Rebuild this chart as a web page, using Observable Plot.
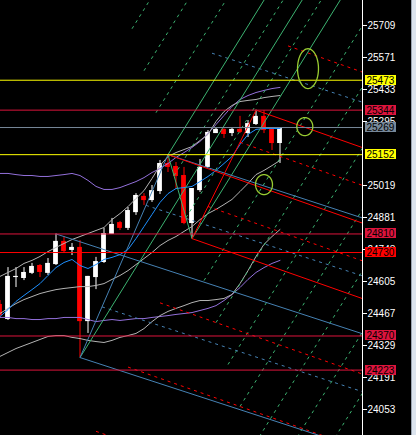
<!DOCTYPE html>
<html><head><meta charset="utf-8">
<script src="https://cdn.jsdelivr.net/npm/d3@7"></script>
<script src="https://cdn.jsdelivr.net/npm/@observablehq/plot@0.6"></script>
<style>
html,body{margin:0;padding:0;background:#000;}
#wrap{display:flex;width:416px;height:435px;overflow:hidden;background:#000;}
#strip{width:4px;height:435px;background:#dce4ee;border-left:1px solid #9aa4b0;}
</style></head><body>
<div id="wrap"><div id="chart"></div><div id="strip"></div></div>
<script>
// ---- candles (bar -1 .. 34) ----
const opens  = [24506,24441,24622,24618,24640,24674,24640,24678,24778,24739,24752,24432,24622,24687,24808,24859,24834,24902,24972,24954,24993,25114,25101,25062,24855,24997,25097,25243,25261,25243,25261,25243,25282,25317,25261,25200];
const highs  = [24523,24665,24665,24665,24683,24678,24704,24810,24799,24769,24782,24627,24709,24834,24877,24864,24924,24984,24984,25019,25127,25152,25118,25097,25006,25131,25256,25269,25263,25265,25317,25299,25344,25342,25265,25269];
const lows   = [24445,24437,24579,24609,24635,24622,24631,24674,24726,24717,24277,24381,24570,24683,24808,24825,24825,24890,24933,24946,24980,25075,25002,24850,24790,24989,25097,25243,25222,25230,25243,25226,25278,25243,25170,25114];
const closes = [24458,24627,24627,24644,24670,24644,24683,24778,24734,24752,24432,24627,24691,24812,24851,24834,24911,24976,24954,24997,25114,25097,25058,24855,25006,25097,25248,25261,25239,25261,25248,25286,25317,25256,25200,25269];

// ---- indicator lines ----
const maFast        = [24454,24484,24519,24545,24570,24596,24631,24665,24687,24700,24674,24661,24678,24700,24709,24721,24743,24790,24842,24894,24946,24984,25006,25010,25015,25036,25058,25084,25114,25144,25196,25239,25261,25265,25265,25265];
const greyUpper     = [24627,24644,24661,24683,24696,24713,24734,24752,24769,24786,24799,24812,24825,24838,24872,24898,24928,24963,24997,25049,25105,25144,25161,25174,25187,25213,25239,25295,25338,25364,25381,25386,25390,25398,25403,25407];
const greyMiddle    = [24467,24489,24510,24527,24540,24553,24562,24570,24575,24579,24583,24583,24588,24596,24614,24631,24652,24678,24704,24730,24760,24782,24799,24821,24842,24872,24898,24916,24937,24959,24993,25028,25066,25084,25105,25127];
const greyLower     = [24282,24299,24316,24329,24342,24355,24368,24372,24372,24364,24359,24351,24346,24342,24351,24364,24372,24381,24402,24432,24458,24476,24489,24501,24514,24523,24523,24527,24532,24549,24596,24652,24713,24765,24799,24829];
const purpleUpper   = [25071,25071,25066,25062,25062,25058,25058,25062,25066,25071,25062,25041,25015,25002,25002,25010,25023,25036,25053,25075,25092,25114,25140,25161,25183,25209,25243,25282,25321,25360,25390,25407,25420,25429,25437,25442];
const purpleLower   = [24450,24450,24445,24445,24441,24441,24445,24445,24450,24450,24450,24441,24432,24437,24441,24437,24441,24445,24445,24450,24454,24458,24463,24467,24471,24480,24489,24501,24523,24549,24579,24614,24644,24665,24683,24696];

// ---- pitchforks: [A, B, C] as [bar, price] ----
const bluePitchfork  = [[6, 24810], [9, 24277], [20, 25152]];
const redPitchfork   = [[20, 25152], [23, 24790], [31, 25344]];
const greenPitchfork = [[9, 24277], [20, 25152], [23, 24790]];
const forkLevels = [-8,-7,-6,-5,-4,-3,-2,-0.5,0.5,2,3,4,5,6,7,8];

// ---- horizontal levels ----
const levelPrices = [25473, 25344, 25269, 25152, 24810, 24730, 24370, 24223];
const levelColors = ["#ffff00","#dc143c","#778899","#ffff00","#dc143c","#ff0000","#dc143c","#dc143c"];

// ---- ellipses: center bar, center price, radius bars, radius price ----
const ellipseBar   = [37.5, 37.1, 32.0];
const ellipsePrice = [25523, 25273, 25023];
const ellipseRx    = [1.31, 1.0, 1.06];
const ellipseRy    = [86, 39, 43];

// ---- axis ticks (25157 sits fully under the 25152 label in the reference) ----
const tickValues = [25709,25571,25433,25295,25019,24881,24743,24605,24467,24329,24191,24053];

const candles = opens.map((o, i) => ({
  i: i - 1, o, h: highs[i], l: lows[i], c: closes[i],
  fast: maFast[i], gu: greyUpper[i], gm: greyMiddle[i], gl: greyLower[i],
  pu: purpleUpper[i], pl: purpleLower[i]
}));
const bull = candles.filter(d => d.c >= d.o);
const bear = candles.filter(d => d.c < d.o);
const bodyLo = d => Math.min(d.o, d.c);
const bodyHi = d => Math.max(Math.max(d.o, d.c), Math.min(d.o, d.c) + 4.3);

function forkSegments(pts, color) {
  const [A, B, C] = pts;
  const mid = [(B[0] + C[0]) / 2, (B[1] + C[1]) / 2];
  const d = [mid[0] - A[0], mid[1] - A[1]];
  const half = [C[0] - mid[0], C[1] - mid[1]];
  const s = 80 / d[0];
  const seg = (P, dashed) => ({x1: P[0], y1: P[1], x2: P[0] + s * d[0], y2: P[1] + s * d[1], dashed, color});
  const out = [seg(A, false), seg(B, false), seg(C, false),
               {x1: B[0], y1: B[1], x2: C[0], y2: C[1], dashed: false, color}];
  for (const t of forkLevels) out.push(seg([mid[0] + t * half[0], mid[1] + t * half[1]], true));
  return out;
}
const forks = [
  ...forkSegments(greenPitchfork, "#3cb371"),
  ...forkSegments(bluePitchfork, "#4682b4"),
  ...forkSegments(redPitchfork, "#ff0000")
];

const rings = ellipseBar.flatMap((cx, j) => d3.range(0, 361, 6).map(a => ({
  j, x: cx + ellipseRx[j] * Math.cos(a * Math.PI / 180),
  y: ellipsePrice[j] + ellipseRy[j] * Math.sin(a * Math.PI / 180)
})));

const levels = levelPrices.map((p, i) => ({p, color: levelColors[i]}));

const W = 411, MR = 49;
const xDomain = [-0.9375, 44.3125];
const yDomain = [23940.9, 25816.8];

const chart = Plot.plot({
  width: W, height: 435,
  marginLeft: 0, marginRight: MR, marginTop: 0, marginBottom: 0,
  style: {background: "black", color: "white", fontFamily: "'Liberation Sans', Arial, sans-serif", fontSize: "10px"},
  x: {domain: xDomain, axis: null},
  y: {domain: yDomain, axis: "right", ticks: tickValues, tickFormat: d3.format("d"), tickSize: 4, tickPadding: 1, label: null},
  marks: [
    Plot.ruleX(bull, {x: "i", y1: "l", y2: "h", stroke: "white", strokeWidth: 1}),
    Plot.ruleX(bear, {x: "i", y1: "l", y2: "h", stroke: "red", strokeWidth: 1}),
    Plot.rect(bull, {x1: d => d.i - 0.3, x2: d => d.i + 0.3, y1: bodyLo, y2: bodyHi, fill: "white"}),
    Plot.rect(bear, {x1: d => d.i - 0.3, x2: d => d.i + 0.3, y1: bodyLo, y2: bodyHi, fill: "red"}),
    Plot.line(candles, {x: "i", y: "pu", stroke: "#9370db", strokeWidth: 1, clip: true}),
    Plot.line(candles, {x: "i", y: "pl", stroke: "#9370db", strokeWidth: 1, clip: true}),
    Plot.line(candles, {x: "i", y: "gu", stroke: "#b4b4b4", strokeWidth: 1, clip: true}),
    Plot.line(candles, {x: "i", y: "gm", stroke: "#b4b4b4", strokeWidth: 1, clip: true}),
    Plot.line(candles, {x: "i", y: "gl", stroke: "#b4b4b4", strokeWidth: 1, clip: true}),
    Plot.line(candles, {x: "i", y: "fast", stroke: "#1e90ff", strokeWidth: 1, clip: true}),
    Plot.link(forks.filter(f => f.dashed), {x1: "x1", y1: "y1", x2: "x2", y2: "y2", stroke: "color", strokeWidth: 1, strokeDasharray: "3,4", clip: true}),
    Plot.link(forks.filter(f => !f.dashed), {x1: "x1", y1: "y1", x2: "x2", y2: "y2", stroke: "color", strokeWidth: 1, clip: true}),
    Plot.ruleY(levels, {y: "p", stroke: "color", strokeWidth: 1}),
    Plot.line(rings, {x: "x", y: "y", z: "j", stroke: "#9acd32", strokeWidth: 1.3, clip: true}),
    Plot.ruleX([xDomain[1]], {stroke: "white", strokeWidth: 1})
  ]
});
document.getElementById("chart").appendChild(chart);

// price labels on the axis, placed with the plot's own y scale
const ys = chart.scale("y");
const svg = d3.select(chart.tagName.toLowerCase() === "svg" ? chart : chart.querySelector("svg"));
const g = svg.append("g").attr("text-anchor", "start");
const xr = W - MR;
levels.forEach(l => {
  const y = ys.apply(l.p);
  g.append("rect").attr("x", xr + 3).attr("y", Math.round(y) - 5).attr("width", 31).attr("height", 10).attr("fill", l.color);
  g.append("text").attr("x", xr + 4.5).attr("y", Math.round(y) + 0.5).attr("dy", "0.35em")
    .attr("text-anchor", "start").attr("fill", "black").attr("font-size", 10).text(String(l.p));
});
</script>
</body></html>
